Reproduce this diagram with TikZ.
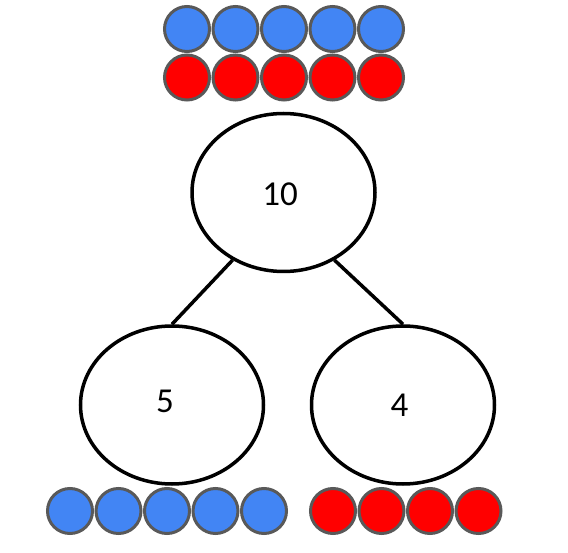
\documentclass[tikz,border=0pt]{standalone}
\usepackage{fontspec}
\setmainfont{Carlito}
\usetikzlibrary{shapes.geometric}
\definecolor{beadblue}{HTML}{4285F4}
\definecolor{beadred}{HTML}{FF0000}
\definecolor{beadedge}{HTML}{595959}
\tikzset{
  bead/.style={circle,draw=beadedge,line width=3pt,minimum size=45pt,inner sep=0pt},
  bluebead/.style={bead,fill=beadblue},
  redbead/.style={bead,fill=beadred},
  part/.style={ellipse,draw=black,line width=3.5pt,minimum width=183pt,minimum height=158pt,inner sep=0pt},
  num/.style={inner sep=0pt,font=\fontsize{35}{42}\selectfont},
  link/.style={draw=black,line width=3.5pt}
}
\begin{document}
\begin{tikzpicture}[x=1pt,y=-1pt]
\useasboundingbox (0,0) rectangle (568,553);
% top beads
\foreach \i in {0,...,4}{
  \node[bluebead] (tb\i) at (187+48.5*\i,29) {};
  \node[redbead] (tr\i) at (187+48.5*\i,77.5) {};
}
% ellipses
\node[part] (whole) at (283.5,192.5) {};
\node[part] (left) at (172,405) {};
\node[part] (right) at (403,405) {};
\node[num] (t10) at (280,194) {10};
\node[num] (t5) at (165,401.5) {5};
\node[num] (t4) at (399.5,405.5) {4};
% connectors
\draw[link] (whole.233) -- (left.north);
\draw[link] (whole.307) -- (right.north);
% bottom beads
\foreach \i in {0,...,4}{
  \node[bluebead] (bb\i) at (70+48.5*\i,511) {};
}
\foreach \i in {0,...,3}{
  \node[redbead] (br\i) at (333+48.5*\i,511) {};
}
\end{tikzpicture}
\end{document}
